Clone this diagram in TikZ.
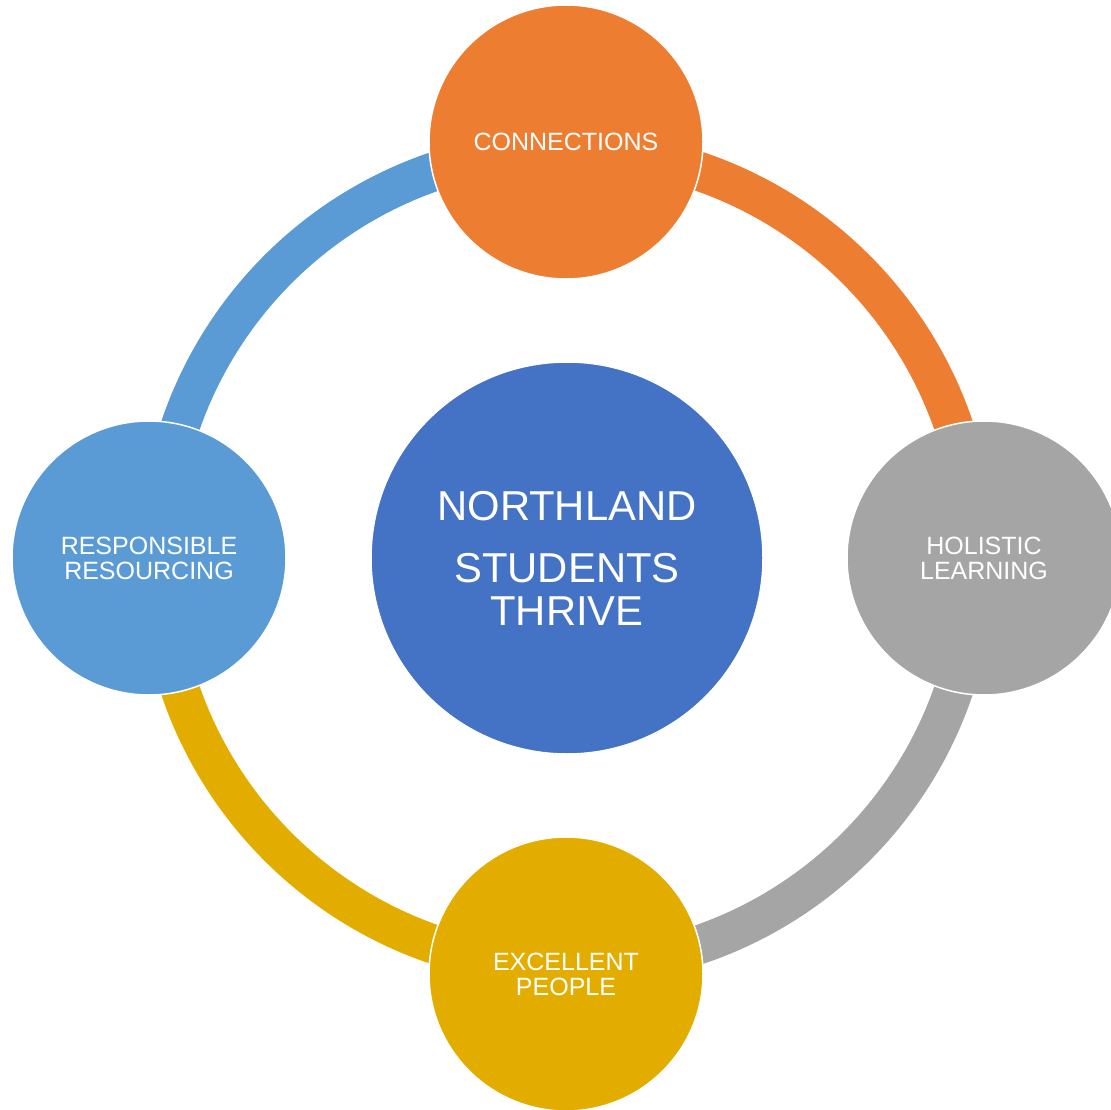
\documentclass[tikz,border=0pt]{standalone}
\usepackage{fontspec}
\setmainfont{Liberation Sans}
\definecolor{corange}{HTML}{ED7D31}
\definecolor{cgrey}{HTML}{A5A5A5}
\definecolor{cgold}{HTML}{E3AD00}
\definecolor{clblue}{HTML}{5B9BD5}
\definecolor{cblue}{HTML}{4472C4}
\begin{document}
\begin{tikzpicture}[x=1pt,y=1pt,
  ring/.style={line width=39pt},
  sat/.style={circle, minimum size=274pt, inner sep=0pt, draw=white, line width=1.5pt,
    text=white, align=center, font=\fontsize{25}{25}\selectfont},
  hub/.style={circle, minimum size=392pt, inner sep=0pt, draw=white, line width=1.5pt,
    fill=cblue, text=white, align=center, font=\fontsize{41.8}{43}\selectfont}]
\useasboundingbox (0,0) rectangle (1111,-1110);
\coordinate (ctr) at (567,-558);
\draw[ring,corange] (ctr) ++(90:408.5) arc[start angle=90,end angle=0,radius=408.5];
\draw[ring,cgrey] (ctr) ++(0:408.5) arc[start angle=0,end angle=-90,radius=408.5];
\draw[ring,cgold] (ctr) ++(-90:408.5) arc[start angle=-90,end angle=-180,radius=408.5];
\draw[ring,clblue] (ctr) ++(180:408.5) arc[start angle=180,end angle=90,radius=408.5];
\node[hub] (hub) at (567,-558) {NORTHLAND\\[19pt]STUDENTS\\THRIVE};
\node[sat,fill=corange] (conn) at (566,-142) {CONNECTIONS};
\node[sat,fill=cgrey] (holi) at (984,-558) {HOLISTIC\\LEARNING};
\node[sat,fill=cgold] (exce) at (566,-974) {EXCELLENT\\PEOPLE};
\node[sat,fill=clblue] (resp) at (149,-558) {RESPONSIBLE\\RESOURCING};
\end{tikzpicture}
\end{document}
